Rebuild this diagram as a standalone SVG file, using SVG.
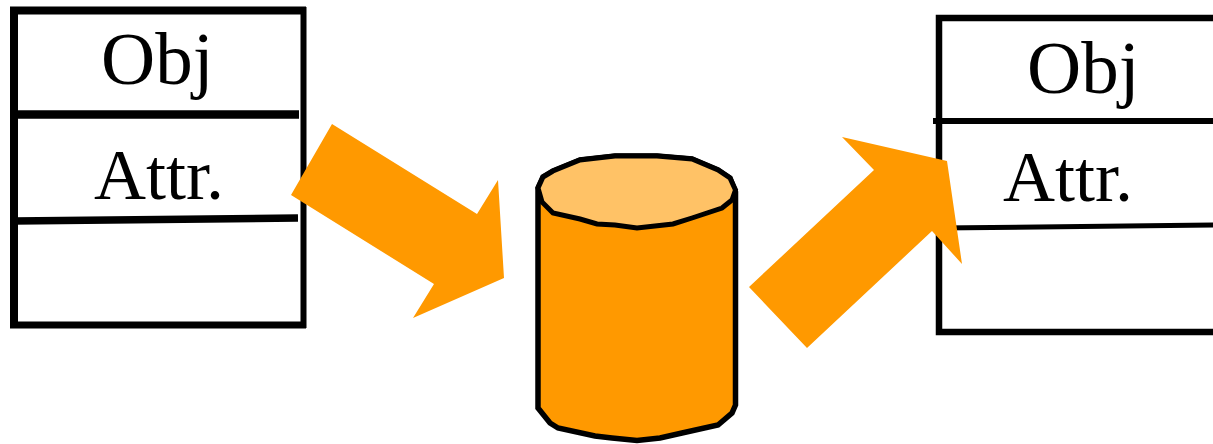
<svg xmlns="http://www.w3.org/2000/svg" width="1213" height="444" viewBox="0 0 1213 444">
<style>
.t{font-family:"Liberation Serif","Times New Roman",serif;font-size:72px;fill:#000}
.o{font-size:75px}
.a{fill:#ff9900;stroke:none}
.k{fill:none;stroke:#000}
</style>
<rect width="1213" height="444" fill="#fff"/>
<g id="left-object">
<path class="k" stroke-width="8" d="M14 326V10.500H306"/>
<path class="k" stroke-width="6" d="M303.500 7V328"/>
<path class="k" stroke-width="7" d="M10 325H306"/>
<path class="k" stroke-width="8.500" d="M14 114.500H299"/>
<path class="k" stroke-width="7.500" d="M14 221L298 218"/>
<text class="t o" x="101" y="84">Obj</text>
<text class="t" x="94" y="199">Attr.</text>
</g>
<g id="right-object">
<path d="M1213 18H939V332H1213" fill="#fff" stroke="#000" stroke-width="6.500"/>
<path class="k" stroke-width="6" d="M933 121H1213"/>
<path class="k" stroke-width="5" d="M939 228L1213 225"/>
<text class="t o" x="1027" y="93">Obj</text>
<text class="t" x="1003" y="201">Attr.</text>
</g>
<g id="database">
<path d="M538 188L543 177 553 171 580 160 615 156 657 156 692 159 718 170 730 178 735.500 192V405L732 413 718 425 682 433 660 438 637 440.500 612 438 595 436 558 428 550 423 538 408Z" fill="#ff9900" stroke="#000" stroke-width="5.500"/>
<path d="M538 188L543 177 553 171 580 160 615 156 657 156 692 159 718 170 730 178 735.500 190 732 200 722 208 692 218 673 224 637 228 615 225 597 224 580 219 553 213 542 202Z" fill="#ffc266" stroke="#000" stroke-width="5"/>
</g>
<g id="connectors">
<polygon class="a" points="332,124 477,214 498,180 504,278 413,318 434,284 291,195"/>
<polygon class="a" points="749,287 874,170 842,137 947,161 962,264 932,231 807,348"/>
</g>
</svg>
